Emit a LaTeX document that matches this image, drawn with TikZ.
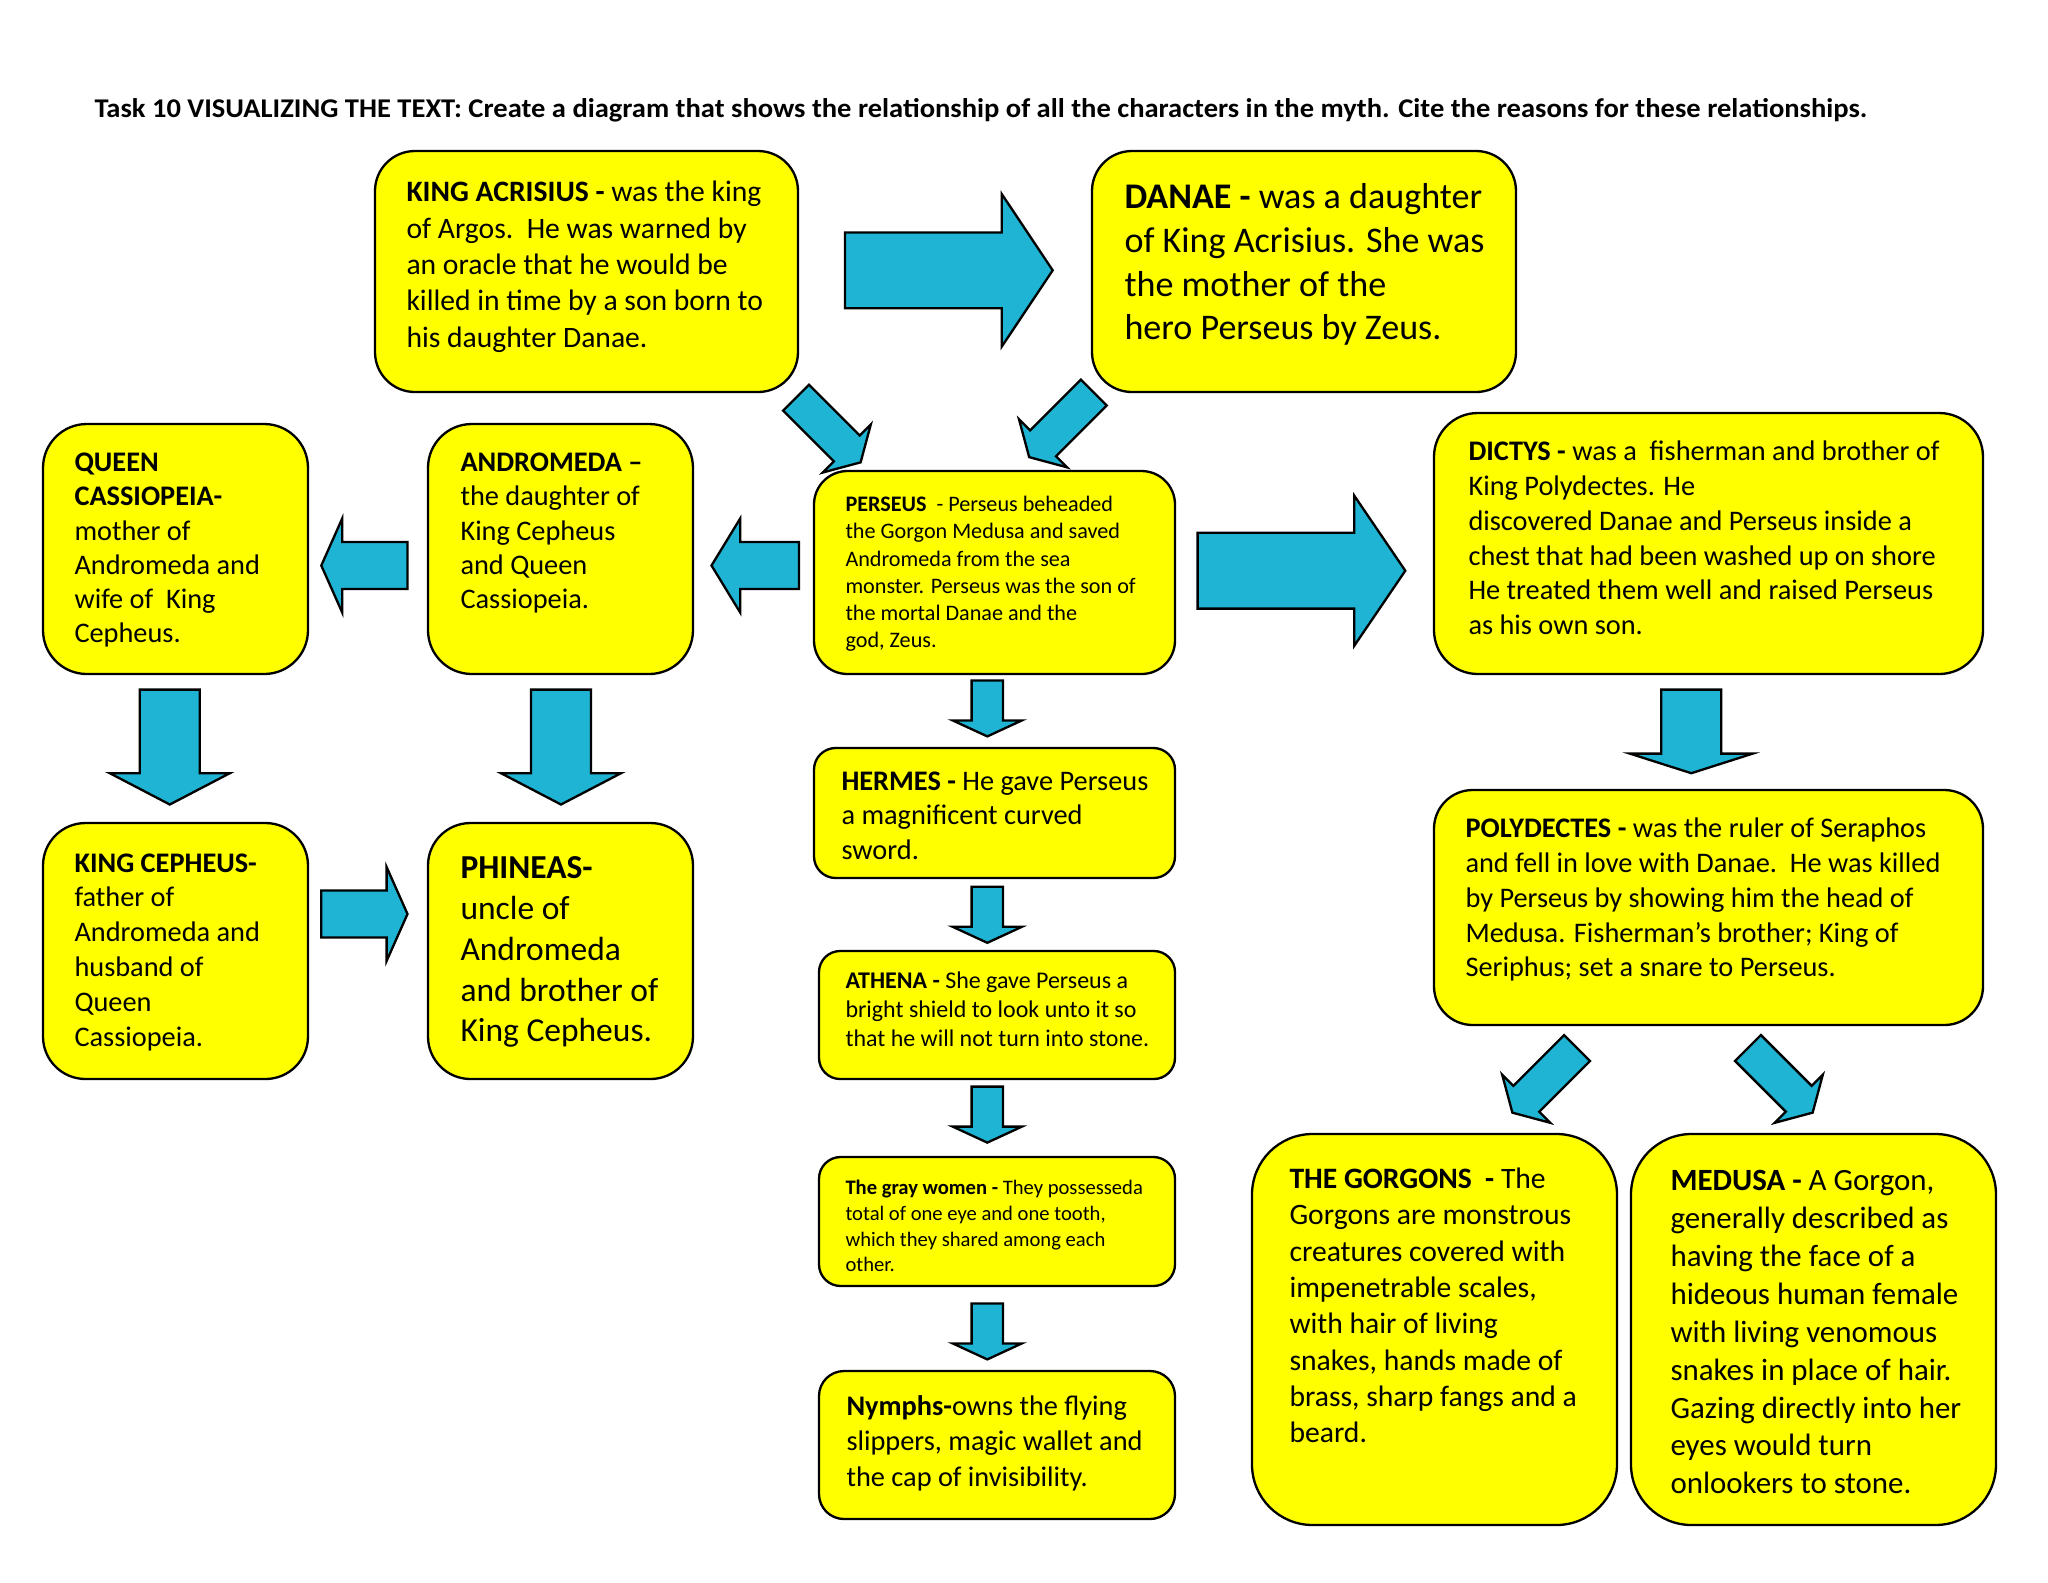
\documentclass[tikz,border=0pt]{standalone}
\usepackage{fontspec}
\setmainfont{Carlito}
\usetikzlibrary{fit}

\definecolor{boxyellow}{RGB}{255,255,0}
\definecolor{arrowblue}{RGB}{31,180,211}

% block arrow: tail, angle, body length, half body, half head, head length
\newcommand\blockarrow[6]{%
  \draw[arr, shift={(#1)}, rotate=#2]
    (0,-#4) -- (#3,-#4) -- (#3,-#5) -- ({#3+#6},0) -- (#3,#5) -- (#3,#4) -- (0,#4) -- cycle;}

\begin{document}
\begin{tikzpicture}[x=0.013643cm, y=-0.013643cm,
  box/.style={draw=black, line width=0.9pt, fill=boxyellow, inner sep=0pt, rounded corners=#1},
  txt/.style 2 args={anchor=north west, align=left, inner sep=0pt, font=\fontsize{#1}{#2}\selectfont},
  arr/.style={draw=black, line width=0.9pt, fill=arrowblue, line join=miter}]

\useasboundingbox[fill=white] (0,0) rectangle (2048,1582);

\node[anchor=base west, inner sep=0pt, font=\fontsize{10.5}{12}\selectfont] (title) at (94,117.5)
  {\resizebox{688pt}{\height}{\textbf{Task 10 VISUALIZING THE TEXT: Create a diagram that shows the relationship of all the characters in the myth. Cite the reasons for these relationships.}}};

% boxes
\node[box=15.5pt, fit={(375,151) (798,392)}] (acrisius) {};
\node[box=15.5pt, fit={(1092,151) (1516,392)}] (danae) {};
\node[box=17pt, fit={(43,424) (308,674)}] (cassiopeia) {};
\node[box=17pt, fit={(428,424) (693,674)}] (andromeda) {};
\node[box=13pt, fit={(814,471) (1175,674)}] (perseus) {};
\node[box=17pt, fit={(1434,413) (1983,674)}] (dictys) {};
\node[box=8.4pt, fit={(814,748) (1175,878)}] (hermes) {};
\node[box=16.5pt, fit={(43,823) (308,1079)}] (cepheus) {};
\node[box=16.5pt, fit={(428,823) (693,1079)}] (phineas) {};
\node[box=15pt, fit={(1434,790) (1983,1025)}] (polydectes) {};
\node[box=8.2pt, fit={(819,951) (1175,1079)}] (athena) {};
\node[box=8.4pt, fit={(819,1157) (1175,1286)}] (graywomen) {};
\node[box=9.7pt, fit={(819,1371) (1175,1519)}] (nymphs) {};
\node[box=23.5pt, fit={(1252,1134) (1617,1525)}] (gorgons) {};
\node[box=23.5pt, fit={(1631,1134) (1996,1525)}] (medusa) {};

% texts
\node[txt={11.5}{14.15}] (acrisiusT) at (406,180.5)
  {\textbf{KING ACRISIUS -} was the king\\ of Argos.\ \ He was warned by\\ an oracle that he would be\\ killed in time by a son born to\\ his daughter Danae.};
\node[txt={14}{17}] (danaeT) at (1124,183)
  {\textbf{DANAE -} was a daughter\\ of King Acrisius. She was\\ the mother of the\\ hero Perseus by Zeus.};
\node[txt={11}{13.3}] (cassiopeiaT) at (74,452.5)
  {\textbf{QUEEN}\\ \textbf{CASSIOPEIA-}\\ mother of\\ Andromeda and\\ wife of\ \ King\\ Cepheus.};
\node[txt={11}{13.3}] (andromedaT) at (460,452.5)
  {\textbf{ANDROMEDA –}\\ the daughter of\\ King Cepheus\\ and Queen\\ Cassiopeia.};
\node[txt={8.6}{10.5}] (perseusT) at (845,496)
  {\textbf{PERSEUS}\ \ - Perseus beheaded\\ the Gorgon Medusa and saved\\ Andromeda from the sea\\ monster. Perseus was the son of\\ the mortal Danae and the\\ god, Zeus.};
\node[txt={11}{13.5}] (dictysT) at (1468,440.5)
  {\textbf{DICTYS -} was a\ \ fisherman and brother of\\ King Polydectes. He\\ discovered Danae and Perseus inside a\\ chest that had been washed up on shore\\ He treated them well and raised Perseus\\ as his own son.};
\node[txt={11}{13.3}] (hermesT) at (841,771.5)
  {\textbf{HERMES -} He gave Perseus\\ a magnificent curved\\ sword.};
\node[txt={9.3}{11.4}] (athenaT) at (845,971)
  {\textbf{ATHENA -} She gave Perseus a\\ bright shield to look unto it so\\ that he will not turn into stone.};
\node[txt={8}{9.9}] (graywomenT) at (845,1180)
  {\textbf{The gray women -} They possesseda\\ total of one eye and one tooth,\\ which they shared among each\\ other.};
\node[txt={11}{13.6}] (nymphsT) at (846,1395.5)
  {\textbf{Nymphs-}owns the flying\\ slippers, magic wallet and\\ the cap of invisibility.};
\node[txt={11}{13.5}] (cepheusT) at (74,853)
  {\textbf{KING CEPHEUS-}\\ father of\\ Andromeda and\\ husband of\\ Queen\\ Cassiopeia.};
\node[txt={13}{15.8}] (phineasT) at (460,856.5)
  {\textbf{PHINEAS-}\\ uncle of\\ Andromeda\\ and brother of\\ King Cepheus.};
\node[txt={11}{13.5}] (polydectesT) at (1465,817.5)
  {\textbf{POLYDECTES -} was the ruler of Seraphos\\ and fell in love with Danae.\ \ He was killed\\ by Perseus by showing him the head of\\ Medusa. Fisherman’s brother; King of\\ Seriphus; set a snare to Perseus.};
\node[txt={11.5}{14.1}] (gorgonsT) at (1289,1167.5)
  {\textbf{THE GORGONS\ \ -} The\\ Gorgons\ are monstrous\\ creatures covered with\\ impenetrable scales,\\ with hair of living\\ snakes, hands made of\\ brass, sharp fangs and a\\ beard.};
\node[txt={12}{14.7}] (medusaT) at (1670,1170)
  {\textbf{MEDUSA -} A Gorgon,\\ generally described as\\ having the face of a\\ hideous\ human female\\ with living venomous\\ snakes in place of hair.\\ Gazing directly into her\\ eyes would turn\\ onlookers\ to stone.};

% arrow tails
\coordinate (acrdan) at (845,270.3);
\coordinate (perdic) at (1197.6,570.7);
\coordinate (perand) at (799,565.5);
\coordinate (andcas) at (407.5,565.5);
\coordinate (cepphi) at (321.3,914);
\coordinate (cascep) at (169.8,689.6);
\coordinate (andphi) at (561,689.6);
\coordinate (perher) at (987.3,680.4);
\coordinate (herath) at (987.3,886.8);
\coordinate (athgra) at (987.3,1086.6);
\coordinate (granym) at (987.3,1303.4);
\coordinate (dicpol) at (1691.3,689.6);
\coordinate (acrper) at (796,397.7);
\coordinate (danper) at (1093.8,392.5);
\coordinate (polgor) at (1577,1048);
\coordinate (polmed) at (1748,1048);

\blockarrow{acrdan}{0}{156.7}{37.9}{76.4}{51}
\blockarrow{perdic}{0}{156.7}{37.9}{75}{51}
\blockarrow{perand}{180}{58.8}{23.5}{47}{28.7}
\blockarrow{andcas}{180}{65.3}{23.5}{47}{20.9}
\blockarrow{cepphi}{0}{65.3}{23.5}{47}{20.9}
\blockarrow{cascep}{-90}{83.6}{30}{60}{31.3}
\blockarrow{andphi}{-90}{83.6}{30}{60}{31.3}
\blockarrow{perher}{-90}{40}{15.7}{34.6}{16}
\blockarrow{herath}{-90}{40}{15.7}{34.6}{16}
\blockarrow{athgra}{-90}{40}{15.7}{34.6}{16}
\blockarrow{granym}{-90}{40}{15.7}{34.6}{16}
\blockarrow{dicpol}{-90}{64}{30}{61.4}{19.6}
\blockarrow{acrper}{-45}{71.8}{18.3}{34}{19.6}
\blockarrow{danper}{-135}{71.8}{18.3}{34}{19.6}
\blockarrow{polgor}{-135}{71.8}{18.3}{34}{19.6}
\blockarrow{polmed}{-45}{71.8}{18.3}{34}{19.6}

\end{tikzpicture}
\end{document}
